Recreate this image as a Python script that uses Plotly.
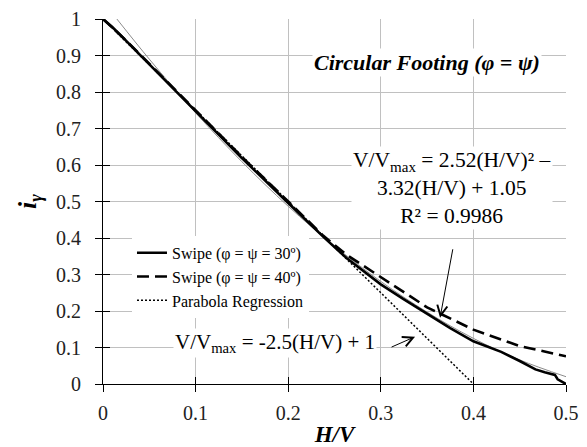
import plotly.graph_objects as go

# Swipe analysis, phi = psi = 30 deg (solid)
x30 = [0, 0.01, 0.02, 0.04, 0.06, 0.08, 0.1, 0.15, 0.2, 0.238, 0.263, 0.3, 0.325, 0.35, 0.375, 0.4, 0.43, 0.45, 0.467, 0.477, 0.488, 0.491, 0.497, 0.5]
y30 = [1, 0.978, 0.953, 0.902, 0.85, 0.8, 0.748, 0.619, 0.496, 0.403, 0.345, 0.273, 0.232, 0.192, 0.153, 0.117, 0.088, 0.063, 0.040, 0.032, 0.025, 0.013, 0.004, 0.0]

# Swipe analysis, phi = psi = 40 deg (dashed)
x40 = [0, 0.02, 0.04, 0.1, 0.15, 0.2, 0.238, 0.263, 0.3, 0.35, 0.4, 0.45, 0.5]
y40 = [1, 0.953, 0.903, 0.75, 0.622, 0.5, 0.406, 0.354, 0.293, 0.21, 0.149, 0.104, 0.076]

# Linear relation (dotted, labelled "Parabola Regression" in legend)
xlin = [0, 0.4]
ylin = [1, 0]

# Parabola trendline (thin grey)
xpar = [0.015, 0.05, 0.1, 0.15, 0.2, 0.25, 0.3, 0.35, 0.4, 0.45, 0.5]
ypar = [1.0, 0.89, 0.743, 0.609, 0.487, 0.378, 0.281, 0.197, 0.125, 0.066, 0.02]

xticks = [0, 0.1, 0.2, 0.3, 0.4, 0.5]
yticks = [0, 0.1, 0.2, 0.3, 0.4, 0.5, 0.6, 0.7, 0.8, 0.9, 1]

FONT = "'Liberation Serif', 'Times New Roman', 'DejaVu Serif', serif"

fig = go.Figure()
fig.add_trace(go.Scatter(x=xpar, y=ypar, mode="lines", line=dict(color="#8c8c8c", width=1, shape="spline"),
                         showlegend=False, hoverinfo="skip"))
fig.add_trace(go.Scatter(x=x30, y=y30, mode="lines", name="Swipe (φ = ψ = 30º)",
                         line=dict(color="black", width=2.6), legendgroup="a"))
fig.add_trace(go.Scatter(x=x40, y=y40, mode="lines", name="Swipe (φ = ψ = 40º)",
                         line=dict(color="black", width=2.6, dash="12px,6px"), legendgroup="b"))
fig.add_trace(go.Scatter(x=xlin, y=ylin, mode="lines", name="Parabola Regression",
                         line=dict(color="black", width=1.5, dash="2px,2px"), legendgroup="c"))
# invisible trace on overlay axes (inner half of cross ticks)
fig.add_trace(go.Scatter(x=[None], y=[None], xaxis="x2", yaxis="y2", showlegend=False, hoverinfo="skip"))

axis_common = dict(showgrid=True, gridcolor="#c0c0c0", gridwidth=1, showline=True, linecolor="black",
                   linewidth=1, ticks="outside", ticklen=7, tickcolor="black", zeroline=False,
                   automargin=False, tickfont=dict(family=FONT, size=20, color="#222"))

fig.update_layout(
    width=587, height=447,
    margin=dict(l=103, r=21, t=19, b=63, autoexpand=False),
    paper_bgcolor="white", plot_bgcolor="white",
    font=dict(family=FONT, color="black"),
    xaxis=dict(range=[0, 0.5], tickvals=xticks, ticktext=[f"{v:g}" for v in xticks],
               title=dict(text="<b><i>H/V</i></b>", font=dict(family=FONT, size=23), standoff=6),
               ticklabelstandoff=4, **axis_common),
    yaxis=dict(range=[0, 1], tickvals=yticks, ticktext=[f"{v:g}" for v in yticks],
               title=dict(text="<b><i>i<sub>γ</sub></i></b>", font=dict(family=FONT, size=26), standoff=11),
               ticklabelstandoff=10, **axis_common),
    xaxis2=dict(range=[0, 0.5], overlaying="x", tickvals=xticks, showticklabels=False, showgrid=False,
                showline=False, ticks="inside", ticklen=7, tickcolor="black", zeroline=False),
    yaxis2=dict(range=[0, 1], overlaying="y", tickvals=yticks, showticklabels=False, showgrid=False,
                showline=False, ticks="inside", ticklen=7, tickcolor="black", zeroline=False),
    legend=dict(x=0.0626, y=0.406, xanchor="left", yanchor="top", bgcolor="white",
                font=dict(family=FONT, size=16, color="black"), tracegroupgap=0),
    showlegend=True,
)

fig.add_annotation(x=0.35, y=0.88, xref="x", yref="y", showarrow=False,
                   text="<b><i>Circular Footing (φ = ψ)</i></b>",
                   font=dict(family=FONT, size=22, color="black"), bgcolor="white")
fig.add_annotation(x=0.377, y=0.537, xref="x", yref="y", showarrow=False, align="center",
                   text="V/V<sub>max</sub> = 2.52(H/V)² –<br>3.32(H/V) + 1.05<br>R² = 0.9986",
                   font=dict(family=FONT, size=21.5, color="black"), bgcolor="white")
fig.add_annotation(x=0.186, y=0.113, xref="x", yref="y", showarrow=False,
                   text="V/V<sub>max</sub> = -2.5(H/V) + 1",
                   font=dict(family=FONT, size=21, color="black"), bgcolor="white")
# arrows
fig.add_annotation(x=0.337, y=0.1295, xref="x", yref="y", ax=-25, ay=11, text="", showarrow=True,
                   arrowhead=5, arrowsize=2, arrowwidth=1, arrowcolor="black", standoff=0)
fig.add_annotation(x=0.364, y=0.1815, xref="x", yref="y", ax=13, ay=-70, text="", showarrow=True,
                   arrowhead=5, arrowsize=2, arrowwidth=1, arrowcolor="black", standoff=0)

fig.write_html("out.html", config={"displayModeBar": False},
               post_script="document.body.style.margin='0';document.body.style.overflow='hidden';")
